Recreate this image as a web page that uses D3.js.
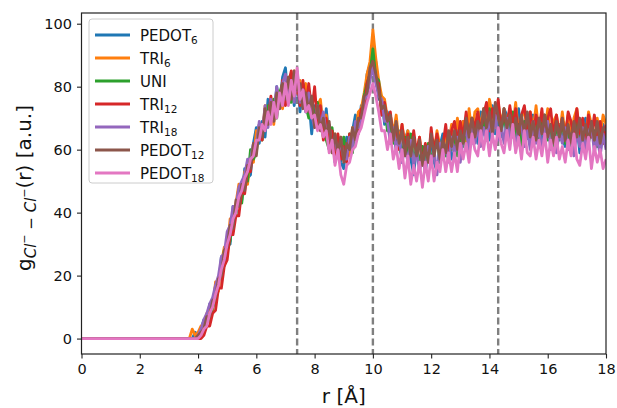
<!DOCTYPE html>
<html><head><meta charset="utf-8">
<script src="https://cdn.jsdelivr.net/npm/d3@7"></script>
<style>body{margin:0;background:#fff} svg{display:block}</style>
</head><body>
<svg id="chart" width="617" height="408"></svg>
<script>
// ---- data ----
const seriesBase = ["PEDOT", "TRI", "UNI", "TRI", "TRI", "PEDOT", "PEDOT"];
const seriesSub  = ["6", "6", "", "12", "18", "12", "18"];
const seriesColors = ["#1f77b4", "#ff7f0e", "#2ca02c", "#d62728", "#9467bd", "#8c564b", "#e377c2"];
// samples start at r = 3.6 Å, spacing 0.1 Å; g(r) = 0 from r = 0 up to the first sample
const rStart = 3.6, rStep = 0.1;
const pedot6 = [
0,0,0,2,1,3,6,5,11,9,
17,16,26,23,32,30,42,40,47,44,
54,51,52,62,67,62,69,64,76,73,
69,80,74,83,86,75,81,74,84,72,
80,72,76,65,74,68,75,64,73,63,
66,56,64,56,54,64,59,66,71,66,
74,73,84,87,90,88,76,77,68,72,
62,67,60,66,56,63,66,57,52,61,
55,61,53,60,63,56,53,61,65,59,
64,57,60,67,59,69,63,71,62,68,
62,72,65,72,63,74,65,70,64,73,
71,62,69,64,73,64,61,70,65,71,
63,70,60,68,71,63,69,60,68,64,
61,70,67,61,68,59,66,70,62,69,
62,67,59,68,63];
const tri6 = [
0,0,3,1,2,4,3,8,9,9,
18,15,24,29,28,38,34,43,49,45,
53,49,58,56,66,66,64,74,68,75,
68,79,78,73,81,83,76,85,78,82,
74,81,73,77,68,74,76,66,71,64,
59,65,58,64,57,62,58,67,65,72,
73,78,84,88,98,89,82,77,76,70,
71,65,71,62,68,62,66,58,63,59,
64,56,61,57,65,59,66,61,58,66,
61,68,62,70,64,69,62,73,65,72,
73,67,73,66,76,71,67,75,68,73,
67,73,67,75,65,70,73,65,72,66,
74,65,71,66,73,63,69,71,64,72,
65,71,63,70,73,64,69,63,72,68,
63,70,64,71,68];
const uni = [
0,0,0,0,0,1,2,5,6,10,
12,19,19,28,28,31,38,39,47,43,
52,50,60,57,59,68,63,71,74,70,
76,70,78,81,75,81,75,84,82,75,
81,74,70,76,70,75,67,69,63,60,
67,58,63,57,64,58,65,59,68,69,
68,77,81,84,92,83,82,71,74,66,
69,62,68,61,58,64,59,65,56,61,
55,61,56,62,56,61,64,56,61,58,
65,60,65,58,65,61,68,64,70,63,
68,63,70,66,73,65,69,72,66,71,
64,69,72,64,68,61,69,64,70,65,
69,62,68,71,63,66,61,68,63,69,
62,67,60,68,69,63,66,61,68,64,
66,61,68,62,65];
const tri12 = [
0,0,0,0,0,0,1,4,4,8,
9,16,16,23,25,33,33,39,39,47,
46,54,53,61,60,68,63,73,69,77,
70,79,74,82,74,81,85,76,82,74,
82,74,81,72,80,68,74,63,70,61,
66,57,65,57,61,56,65,62,67,65,
73,72,81,84,88,82,81,71,75,69,
72,63,68,60,68,60,65,58,66,59,
64,55,62,56,67,59,65,59,61,68,
59,66,69,62,69,64,72,63,70,67,
72,66,71,75,66,73,68,76,67,72,
67,74,67,73,64,71,74,66,72,64,
71,66,73,64,70,73,64,71,65,70,
63,72,69,64,73,65,70,62,71,64,
71,64,69,62,68];
const tri18 = [
0,0,0,0,1,3,6,8,11,13,
17,20,26,27,34,36,42,42,48,50,
52,57,57,62,61,69,65,74,67,76,
71,80,73,81,84,76,82,75,85,75,
79,72,78,71,67,74,67,72,65,68,
60,64,58,63,57,57,64,60,69,67,
69,76,77,82,86,81,77,76,69,69,
62,67,60,64,56,61,56,63,55,60,
53,58,53,61,55,60,52,62,57,61,
56,64,58,64,56,64,66,60,68,62,
67,61,67,63,70,64,71,63,68,62,
70,63,68,60,67,68,61,66,60,69,
62,67,60,66,69,60,65,59,66,62,
67,60,65,58,66,61,67,60,65,68,
59,64,58,65,60];
const pedot12 = [
0,0,0,0,1,2,3,7,7,12,
13,19,20,28,29,36,35,44,42,49,
47,55,54,62,58,67,64,73,68,75,
69,78,73,81,76,83,76,85,79,81,
73,78,72,77,67,74,66,70,64,69,
59,65,59,64,56,62,60,67,63,70,
70,77,78,86,88,84,79,73,74,69,
71,63,69,62,66,58,64,58,64,58,
63,55,61,56,65,58,63,57,63,59,
66,61,66,60,66,62,70,64,70,64,
69,65,73,67,72,65,75,71,66,73,
67,71,64,70,65,71,65,72,64,69,
63,70,65,71,64,68,62,69,64,70,
63,68,62,69,64,70,63,68,62,69,
63,69,62,67,66];
const pedot18 = [
0,0,0,0,0,1,3,4,8,10,
14,17,22,25,30,33,38,40,45,47,
51,53,57,58,63,63,68,66,72,68,
75,70,78,74,81,74,82,77,86,76,
79,72,74,70,71,66,68,64,66,59,
63,55,60,52,49,55,56,60,61,65,
67,71,75,78,81,77,72,66,66,60,
65,57,61,54,60,51,58,49,55,50,
56,48,56,50,58,50,56,53,60,53,
59,53,59,53,62,57,62,56,65,60,
58,66,60,66,58,65,60,67,62,59,
66,60,68,59,64,57,66,59,58,64,
57,63,58,65,56,63,58,64,57,61,
56,63,58,65,57,55,62,57,64,54,
61,56,60,54,57];
const seriesValues = [pedot6, tri6, uni, tri12, tri18, pedot12, pedot18];
const xTicks = [0, 2, 4, 6, 8, 10, 12, 14, 16, 18];
const yTicks = [0, 20, 40, 60, 80, 100];
const markerR = [7.4, 10, 14.3];

// ---- layout ----
const L = 81.5, R = 606, T = 13, B = 354;
const svg = d3.select("#chart");
const x = d3.scaleLinear().domain([0, 18]).range([L, R]);
const y = d3.scaleLinear().domain([-4.9, 103.4]).range([B, T]);
const font = "DejaVu Sans, sans-serif";

svg.append("defs").append("clipPath").attr("id", "clip")
  .append("rect").attr("x", L).attr("y", T).attr("width", R - L).attr("height", B - T);

// dashed reference lines (under the curves)
svg.append("g").attr("clip-path", "url(#clip)").selectAll("line").data(markerR).join("line")
  .attr("x1", d => x(d)).attr("x2", d => x(d)).attr("y1", T).attr("y2", B)
  .attr("stroke", "#7f7f7f").attr("stroke-width", 2.4).attr("stroke-dasharray", "7,3.5");

// curves
const line = d3.line().x(d => x(d[0])).y(d => y(d[1]));
const gLines = svg.append("g").attr("clip-path", "url(#clip)");
seriesValues.forEach((vals, k) => {
  const pts = [[0, 0]].concat(vals.map((v, i) => [rStart + i * rStep, v]));
  gLines.append("path").datum(pts).attr("d", line)
    .attr("fill", "none").attr("stroke", seriesColors[k]).attr("stroke-width", 2.8)
    .attr("stroke-linejoin", "round");
});

// axes
const xAxis = svg.append("g").attr("transform", `translate(0,${B})`)
  .call(d3.axisBottom(x).tickValues(xTicks).tickFormat(d3.format("d")).tickSize(4.5).tickPadding(5));
const yAxis = svg.append("g").attr("transform", `translate(${L},0)`)
  .call(d3.axisLeft(y).tickValues(yTicks).tickFormat(d3.format("d")).tickSize(4.5).tickPadding(5));
[xAxis, yAxis].forEach(a => {
  a.select(".domain").remove();
  a.selectAll(".tick line").attr("stroke", "#222").attr("stroke-width", 1.1);
  a.selectAll(".tick text").attr("fill", "#111").style("font-family", font).style("font-size", "14.5px");
});

// frame
svg.append("rect").attr("x", L).attr("y", T).attr("width", R - L).attr("height", B - T)
  .attr("fill", "none").attr("stroke", "#222").attr("stroke-width", 1.2);

// axis labels
svg.append("text").attr("x", (L + R) / 2).attr("y", 403).attr("text-anchor", "middle")
  .style("font-family", font).style("font-size", "20px").attr("fill", "#111").text("r [Å]");

const yl = svg.append("text").attr("transform", "translate(31,188) rotate(-90)")
  .attr("text-anchor", "middle").style("font-family", font).style("font-size", "20px").attr("fill", "#111");
yl.append("tspan").text("g");
yl.append("tspan").attr("dy", 5).style("font-size", "15px").style("font-style", "italic").text("Cl");
yl.append("tspan").attr("dy", -8).style("font-size", "11px").text("−");
yl.append("tspan").attr("dy", 8).style("font-size", "15px").text(" − ");
yl.append("tspan").style("font-size", "15px").style("font-style", "italic").text("Cl");
yl.append("tspan").attr("dy", -8).style("font-size", "11px").text("−");
yl.append("tspan").attr("dy", 3).text("(r) [a.u.]");

// legend
const lg = svg.append("g");
const lgX = 89, lgY = 19, lgW = 124, rowH = 23;
lg.append("rect").attr("x", lgX).attr("y", lgY).attr("width", lgW).attr("height", 164)
  .attr("rx", 3).attr("fill", "#fff").attr("fill-opacity", 0.8).attr("stroke", "#cccccc").attr("stroke-width", 1);
seriesBase.forEach((name, k) => {
  const cy = 35 + k * rowH;
  lg.append("line").attr("x1", 95).attr("x2", 130).attr("y1", cy).attr("y2", cy)
    .attr("stroke", seriesColors[k]).attr("stroke-width", 2.8);
  const t = lg.append("text").attr("x", 140).attr("y", cy + 5.5)
    .style("font-family", font).style("font-size", "15px").attr("fill", "#111");
  t.append("tspan").text(name);
  if (seriesSub[k]) t.append("tspan").attr("dy", 3.5).style("font-size", "10.5px").text(seriesSub[k]);
});
</script>
</body></html>
